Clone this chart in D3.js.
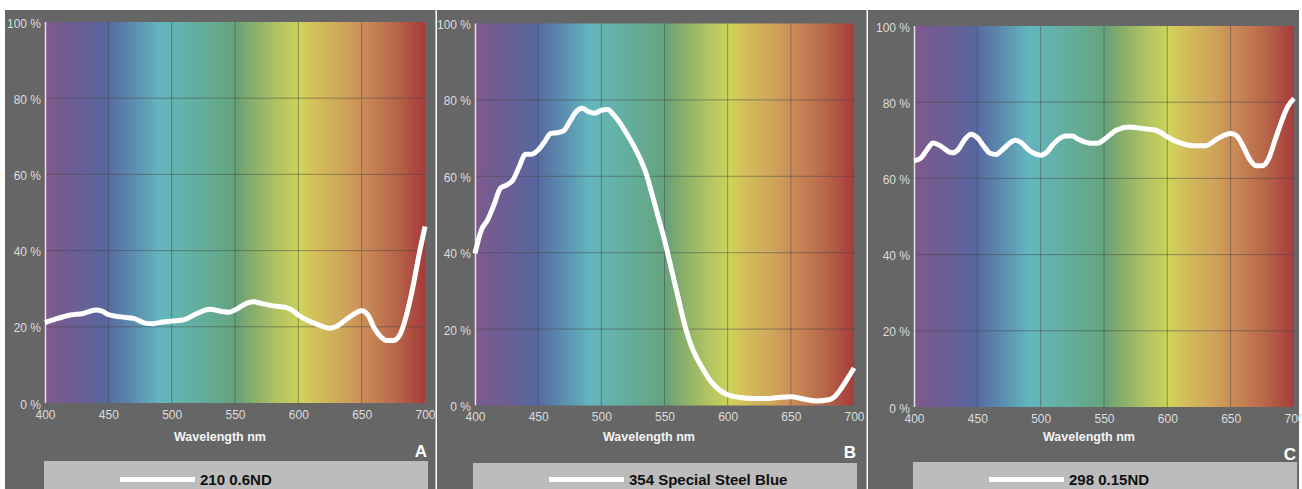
<!DOCTYPE html>
<html>
<head>
<meta charset="utf-8">
<script src="https://cdn.jsdelivr.net/npm/d3@7"></script>
<style>
  body { margin: 0; background: #fff; }
  svg { display: block; font-family: "Liberation Sans", Arial, sans-serif; }
</style>
</head>
<body>
<svg id="chart" width="1302" height="489"></svg>
<script>
// transmission curves, [wavelength nm, percent]
const curve210 = [
    [400, 21.1], [410, 22.2], [420, 23.1], [430, 23.5], [440, 24.4], [445, 24.1],
    [450, 23.2], [460, 22.6], [470, 22.2], [480, 20.9], [485, 20.8], [490, 21.1],
    [500, 21.5], [510, 21.9], [520, 23.5], [530, 24.6], [540, 24.0], [545, 23.8],
    [550, 24.4], [560, 26.3], [565, 26.6], [570, 26.2], [580, 25.5], [590, 25.1],
    [595, 24.4], [600, 23.1], [610, 21.3], [620, 20.0], [625, 19.6], [630, 20.1],
    [640, 22.5], [650, 24.2], [655, 23.1], [660, 19.6], [665, 17.4], [670, 16.4],
    [675, 16.4], [680, 17.8], [685, 22.6], [690, 29.7], [695, 38.4], [700, 46.3],
];
const curve354 = [
    [400, 39.8], [405, 45.9], [410, 48.6], [415, 52.5], [420, 56.8], [425, 57.7],
    [430, 59.0], [435, 62.5], [440, 65.8], [445, 65.8], [450, 66.9], [455, 69.0],
    [460, 71.2], [465, 71.4], [470, 71.9], [475, 74.3], [480, 76.9], [485, 77.8],
    [490, 76.9], [495, 76.5], [500, 77.3], [505, 77.5], [510, 76.0], [520, 71.2],
    [530, 65.1], [535, 61.2], [540, 55.5], [545, 49.4], [550, 43.3], [555, 36.4],
    [560, 29.4], [565, 22.4], [570, 16.7], [575, 12.8], [580, 9.8], [585, 7.1],
    [590, 5.1], [595, 3.7], [600, 2.8], [610, 2.1], [620, 1.8], [630, 1.8],
    [640, 2.1], [650, 2.3], [660, 1.7], [670, 1.2], [680, 1.5], [685, 2.4],
    [690, 4.5], [695, 7.1], [700, 9.8],
];
const curve298 = [
    [400, 64.6], [405, 65.2], [410, 67.4], [415, 69.3], [420, 68.7], [430, 66.7],
    [435, 67.6], [440, 70.2], [445, 71.6], [450, 70.7], [455, 68.5], [460, 66.6],
    [465, 66.3], [470, 67.6], [480, 70.0], [485, 69.3], [490, 67.6], [500, 66.1],
    [505, 66.9], [510, 69.0], [520, 71.1], [525, 71.1], [530, 70.2], [540, 69.2],
    [545, 69.2], [550, 70.2], [560, 72.7], [570, 73.5], [580, 73.1], [590, 72.7],
    [595, 72.0], [600, 70.9], [610, 69.3], [620, 68.6], [630, 68.6], [640, 70.5],
    [650, 71.8], [655, 71.1], [660, 68.3], [665, 65.0], [670, 63.3], [675, 63.3],
    [680, 65.2], [685, 70.0], [690, 74.8], [695, 78.8], [700, 81.0],
];

const filterNames = ["210 0.6ND", "354 Special Steel Blue", "298 0.15ND"];
const panelLetters = ["A", "B", "C"];
const curves = [curve210, curve354, curve298];

const xTicks = [400, 450, 500, 550, 600, 650, 700];
const yTicks = [0, 20, 40, 60, 80, 100];
const xLabel = "Wavelength nm";

// spectrum backdrop colours
const spectrumStops = [
    [400, "#7e5a8c"], [425, "#6b5e94"], [448, "#5867a0"], [468, "#5b8aae"],
    [491, "#63b6be"], [504, "#64b3b0"], [531, "#64ab94"], [552, "#66a27a"],
    [558, "#7aa86e"], [583, "#b0c262"], [602, "#cdd45a"], [608, "#d4c65a"],
    [636, "#cfa45a"], [652, "#c98b57"], [676, "#b9684a"], [700, "#a63b3b"],
];

// panel placement
const panels = [
    { x0: 5, x1: 436, px: 45, py: 22, pw: 380, ph: 381, titleX: 220, legX: 44, legY: 461, letterY: 457 },
    { x0: 437, x1: 867, px: 475, py: 23.5, pw: 379, ph: 382, titleX: 649, legX: 473, legY: 463, letterY: 458 },
    { x0: 868, x1: 1299, px: 914, py: 26, pw: 380, ph: 381, titleX: 1089, legX: 913, legY: 462, letterY: 460 },
];

const svg = d3.select("#chart");

const defs = svg.append("defs");
const grad = defs.append("linearGradient").attr("id", "spectrum")
    .attr("x1", "0%").attr("x2", "100%").attr("y1", "0%").attr("y2", "0%");
grad.selectAll("stop").data(spectrumStops).enter().append("stop")
    .attr("offset", (d) => ((d[0] - 400) / 300 * 100) + "%")
    .attr("stop-color", (d) => d[1]);

// gray background for the whole strip
svg.append("rect").attr("x", 5).attr("y", 10).attr("width", 1294).attr("height", 479).attr("fill", "#666666");

panels.forEach((p, i) => {
    const g = svg.append("g");

    const xScale = d3.scaleLinear().domain([400, 700]).range([p.px, p.px + p.pw]);
    const yScale = d3.scaleLinear().domain([0, 100]).range([p.py + p.ph, p.py]);

    g.append("rect")
        .attr("x", xScale(400)).attr("y", yScale(100))
        .attr("width", xScale(700) - xScale(400)).attr("height", yScale(0) - yScale(100))
        .attr("fill", "url(#spectrum)");

    // grid
    g.selectAll(".vgrid").data(xTicks.slice(1, -1)).enter().append("line")
        .attr("x1", (d) => xScale(d)).attr("x2", (d) => xScale(d))
        .attr("y1", yScale(100)).attr("y2", yScale(0))
        .attr("stroke", "rgba(70,70,70,0.5)").attr("stroke-width", 1);
    g.selectAll(".hgrid").data(yTicks.slice(1, -1)).enter().append("line")
        .attr("x1", xScale(400)).attr("x2", xScale(700))
        .attr("y1", (d) => yScale(d)).attr("y2", (d) => yScale(d))
        .attr("stroke", "rgba(70,70,70,0.5)").attr("stroke-width", 1);

    // y axis line
    g.append("line")
        .attr("x1", xScale(400) + 0.5).attr("x2", xScale(400) + 0.5)
        .attr("y1", yScale(100)).attr("y2", yScale(0))
        .attr("stroke", "#eadcea").attr("stroke-width", 1.5);

    const xAxis = d3.axisBottom(xScale).tickValues(xTicks).tickSize(0).tickPadding(7);
    const yAxis = d3.axisLeft(yScale).tickValues(yTicks).tickSize(0).tickPadding(4)
        .tickFormat((d) => d + " %");

    g.append("g").attr("transform", `translate(0, ${yScale(0)})`).call(xAxis)
        .call((a) => a.select(".domain").remove());
    g.append("g").attr("transform", `translate(${xScale(400)}, 0)`).call(yAxis)
        .call((a) => a.select(".domain").remove())
        .selectAll("text").attr("dy", "0.42em");

    g.selectAll(".tick text")
        .attr("fill", "#dcdcdc")
        .style("font-size", "12px")
        .style("font-family", '"Liberation Sans", Arial, sans-serif');

    // curve
    const line = d3.line()
        .x((d) => xScale(d[0]))
        .y((d) => yScale(d[1]))
        .curve(d3.curveMonotoneX);
    g.append("path")
        .attr("d", line(curves[i]))
        .attr("fill", "none")
        .attr("stroke", "#ffffff")
        .attr("stroke-width", 5)
        .attr("stroke-linejoin", "round");

    // axis title
    g.append("text")
        .attr("x", p.titleX).attr("y", 441)
        .attr("text-anchor", "middle")
        .attr("fill", "#f4f4f4")
        .style("font-size", "12.5px").style("font-weight", "bold")
        .text(xLabel);

    // panel letter
    g.append("text")
        .attr("x", xScale(700) + 2).attr("y", p.letterY)
        .attr("text-anchor", "end")
        .attr("fill", "#ffffff")
        .style("font-size", "17px").style("font-weight", "bold")
        .text(panelLetters[i]);

    // legend box
    g.append("rect")
        .attr("x", p.legX).attr("y", p.legY)
        .attr("width", 384).attr("height", 489 - p.legY)
        .attr("fill", "#bcbcbc");
    g.append("line")
        .attr("x1", p.legX + 76).attr("x2", p.legX + 151)
        .attr("y1", 479.5).attr("y2", 479.5)
        .attr("stroke", "#ffffff").attr("stroke-width", 5);
    g.append("text")
        .attr("x", p.legX + 156).attr("y", 485)
        .attr("fill", "#111")
        .style("font-size", "15px").style("font-weight", "bold")
        .text(filterNames[i]);
});

// white separators between panels
svg.selectAll(".sep").data([436, 867]).enter().append("rect")
    .attr("x", (d) => d - 0.5).attr("y", 10).attr("width", 1.5).attr("height", 479)
    .attr("fill", "#ffffff");
</script>
</body>
</html>
